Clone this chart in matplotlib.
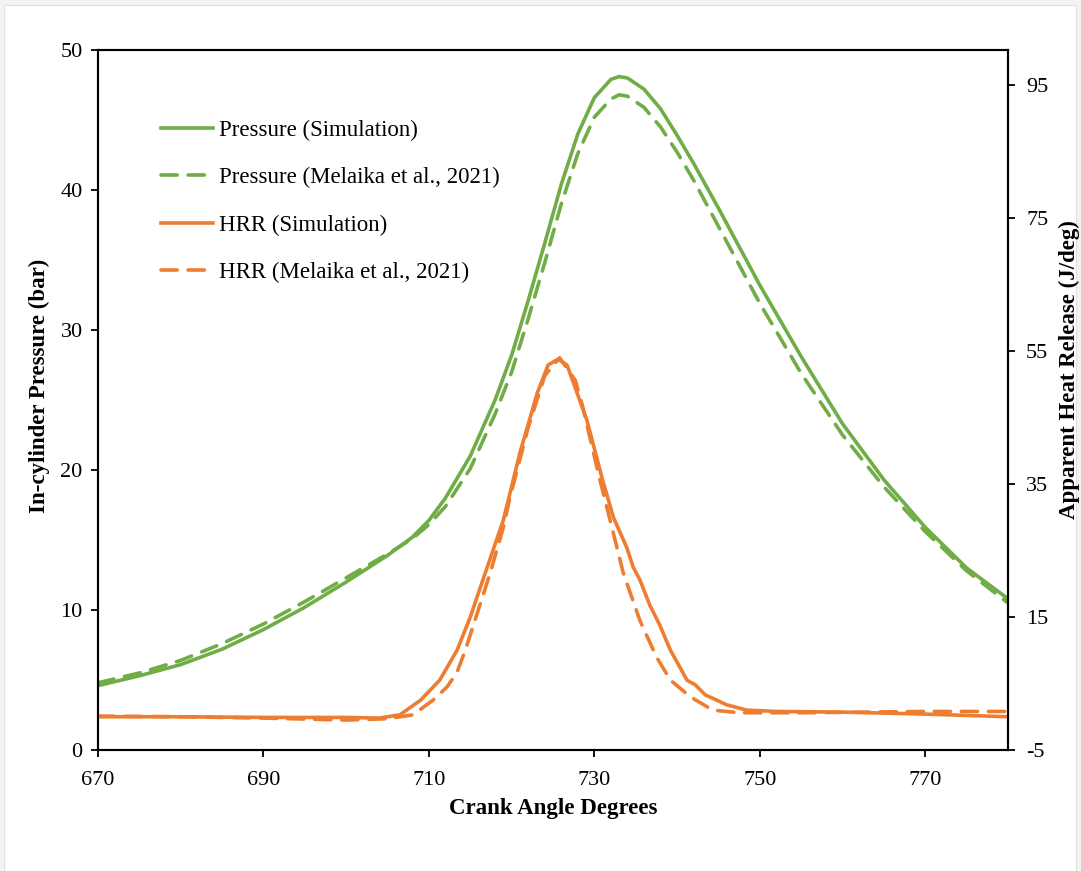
import numpy as np
import matplotlib
matplotlib.use("Agg")
import matplotlib.pyplot as plt
from matplotlib.patches import Rectangle

plt.rcParams['font.family'] = ['Liberation Serif', 'DejaVu Serif']
plt.rcParams['axes.unicode_minus'] = False

# Pressure (bar), left axis
p_sim_x = [670, 675, 680, 685, 690, 695, 700, 705, 708, 710, 712, 715, 718, 720,
           722, 724, 726, 728, 730, 732, 733, 734, 736, 738, 740, 742, 745, 750,
           755, 760, 765, 770, 775, 780]
p_sim_y = [4.6, 5.3, 6.1, 7.2, 8.6, 10.2, 12.0, 13.9, 15.2, 16.4, 18.0, 21.0, 25.0,
           28.2, 32.1, 36.2, 40.4, 44.0, 46.6, 47.9, 48.1, 48.0, 47.2, 45.8, 43.9,
           41.9, 38.7, 33.2, 28.1, 23.3, 19.3, 15.9, 13.0, 10.8]

p_exp_x = [670, 675, 680, 685, 690, 695, 700, 705, 708, 710, 712, 715, 718, 720,
           722, 724, 726, 728, 730, 732, 733, 734, 736, 738, 740, 742, 745, 750,
           755, 760, 765, 770, 775, 780]
p_exp_y = [4.8, 5.5, 6.4, 7.6, 9.0, 10.6, 12.3, 14.0, 15.1, 16.1, 17.4, 20.1, 24.0,
           27.0, 30.8, 34.8, 39.0, 42.6, 45.2, 46.5, 46.8, 46.7, 45.9, 44.5, 42.7,
           40.7, 37.4, 31.9, 26.9, 22.5, 18.8, 15.6, 12.8, 10.5]

# Apparent heat release (J/deg), right axis
h_sim_x = [670, 680, 690, 700, 704, 706.5, 709, 711.3, 713.4, 715, 716.2, 719, 721,
           723.1, 724.4, 725.6, 726.7, 729.1, 731.0, 732.3, 733.9, 734.7, 735.5,
           736.7, 737.9, 739.2, 741.2, 742.2, 743.4, 746, 748.4, 752, 760, 770, 780]
h_sim_y = [0.0, 0.0, -0.1, -0.1, -0.2, 0.3, 2.5, 5.5, 10.0, 15.0, 19.4, 29.6, 39.7,
           48.7, 52.9, 53.8, 52.9, 44.6, 35.6, 30.0, 25.5, 22.5, 20.6, 16.8, 13.8,
           10.0, 5.5, 4.8, 3.3, 1.8, 1.0, 0.8, 0.7, 0.4, 0.0]

h_exp_x = [670, 680, 690, 700, 705, 708.1, 710.5, 712.2, 713.4, 714.4, 717.4, 719,
           719.8, 722, 724, 725.8, 727.7, 728.6, 730.5, 732.3, 733.5, 735.5, 737.5,
           739.2, 741.6, 744.3, 747.6, 755, 770, 780]
h_exp_y = [0.1, 0.0, -0.2, -0.5, -0.3, 0.3, 2.5, 4.5, 6.7, 10.0, 21.6, 28.5, 33.0,
           43.5, 51.3, 54.0, 50.6, 46.6, 36.5, 27.6, 21.6, 14.5, 9.0, 5.5, 3.0, 1.0,
           0.6, 0.6, 0.8, 0.8]

green = '#70AD47'
orange = '#ED7D31'

fig = plt.figure(figsize=(10.81, 8.71), dpi=100, facecolor='#f3f3f3')
fig.patches.append(Rectangle((4 / 1081, 0), 1072 / 1081, 866 / 871,
                             transform=fig.transFigure, facecolor='white',
                             edgecolor='#e0e0e0', lw=0.8, zorder=-10))

ax = fig.add_axes([98 / 1081, 1 - 750 / 871, 910 / 1081, 700 / 871])
ax2 = ax.twinx()

dash = (4.5, 3)
lw = 2.6
l1, = ax.plot(p_sim_x, p_sim_y, color=green, lw=lw, label='Pressure (Simulation)')
l2, = ax.plot(p_exp_x, p_exp_y, color=green, lw=lw, ls=(0, dash),
              label='Pressure (Melaika et al., 2021)')
l3, = ax2.plot(h_sim_x, h_sim_y, color=orange, lw=lw, label='HRR (Simulation)')
l4, = ax2.plot(h_exp_x, h_exp_y, color=orange, lw=lw, ls=(0, dash),
               label='HRR (Melaika et al., 2021)')
for l in (l1, l2, l3, l4):
    l.set_solid_joinstyle('round')
    l.set_dash_capstyle('round')

ax.set_xlim(670, 780)
ax.set_ylim(0, 50)
ax2.set_ylim(-5, 100.3)
ax.set_xticks([670, 690, 710, 730, 750, 770])
ax.set_yticks([0, 10, 20, 30, 40, 50])
ax2.set_yticks([-5, 15, 35, 55, 75, 95])

for a in (ax, ax2):
    for s in a.spines.values():
        s.set_linewidth(1.5)
    a.tick_params(labelsize=16, width=1.3, length=5, direction='out')
ax.tick_params(axis='x', pad=10)
ax.tick_params(axis='y', pad=6)
ax2.tick_params(axis='y', pad=8)

ax.set_xlabel('Crank Angle Degrees', fontsize=16.5, fontweight='bold', labelpad=6)
ax.set_ylabel('In-cylinder Pressure (bar)', fontsize=16.5, fontweight='bold')
ax2.set_ylabel('Apparent Heat Release (J/deg)', fontsize=16.5, fontweight='bold')
ax.yaxis.set_label_coords(-0.053, 0.52)
ax2.yaxis.set_label_coords(1.056, 0.543)

ax.legend(handles=[l1, l2, l3, l4], loc='upper left',
          bbox_to_anchor=(140 / 1081, 1 - 99 / 871), bbox_transform=fig.transFigure,
          frameon=False, fontsize=16.5, handlelength=2.3, handletextpad=0.25,
          labelspacing=1.15)

fig.savefig('out.png', dpi=100, facecolor=fig.get_facecolor())
